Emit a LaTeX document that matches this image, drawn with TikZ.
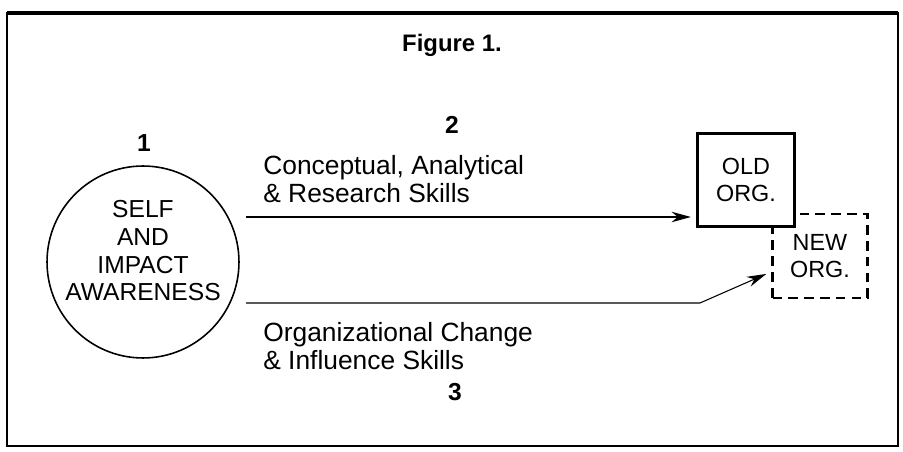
\documentclass[tikz,border=0pt]{standalone}
\usepackage{fontspec}
\setmainfont{Liberation Sans}
\usetikzlibrary{arrows.meta,positioning}
\tikzset{
    caption/.style={font=\fontsize{13.6}{16}\selectfont\bfseries},
    stagenum/.style={font=\fontsize{14}{16}\selectfont\bfseries},
    selfnode/.style={circle, draw, line width=0.9pt, minimum size=3.84cm, inner sep=0pt},
    selftext/.style={align=center, inner sep=0pt, font=\fontsize{14}{15.9}\selectfont},
    orgbox/.style={rectangle, draw, line width=1.6pt, minimum width=1.94cm, minimum height=1.86cm,
        align=center, font=\fontsize{13.3}{15.2}\selectfont},
    neworg/.style={orgbox, dash pattern=on 5.5pt off 3.5pt, minimum width=1.9cm, minimum height=1.68cm},
    skill/.style={anchor=west, inner sep=0pt, align=left, font=\fontsize{15}{16.4}\selectfont},
    flow/.style={line width=0.6pt, -{Stealth[length=11pt,width=6pt]}},
    frame/.style={line width=1.2pt},
}
\begin{document}
\begin{tikzpicture}[x=0.02cm, y=-0.02cm]
    \useasboundingbox (0,0) rectangle (903,452);
    % outer frame
    \draw[frame] (7,13) rectangle (898,446);
    \draw[line width=1.9pt] (7,13) -- (898,13);

    \node[caption] (title) at (452,45) {Figure 1.};

    % stage 1: the person
    \node[stagenum] (n1) at (144,143) {1};
    \node[selfnode] (self) at (143,262) {};
    \node[selftext] (selftxt) at ([yshift=6.5pt]self.center) {SELF\\AND\\IMPACT\\AWARENESS};

    % organisations
    \node[neworg] (new) at (820,256) {NEW\\ORG.};
    \node[orgbox, fill=white] (old) at (746,180) {OLD\\ORG.};

    % stage 2 and 3 paths
    \coordinate (s2) at (246,217);
    \coordinate (s3) at (246,303);
    \coordinate (b3) at (700,303);
    \draw[flow, shorten >=3pt] (s2) -- (old.west |- s2);
    \draw[flow, shorten >=3pt] (s3) -- (b3) -- ([yshift=-9pt]new.west);

    \node[stagenum] (n2) at (452,125) {2};
    \node[skill] (sk2) at (263,179) {Conceptual, Analytical\\\& Research Skills};
    \node[skill] (sk3) at (263,346) {Organizational Change\\\& Influence Skills};
    \node[stagenum] (n3) at (455,392) {3};
\end{tikzpicture}
\end{document}
